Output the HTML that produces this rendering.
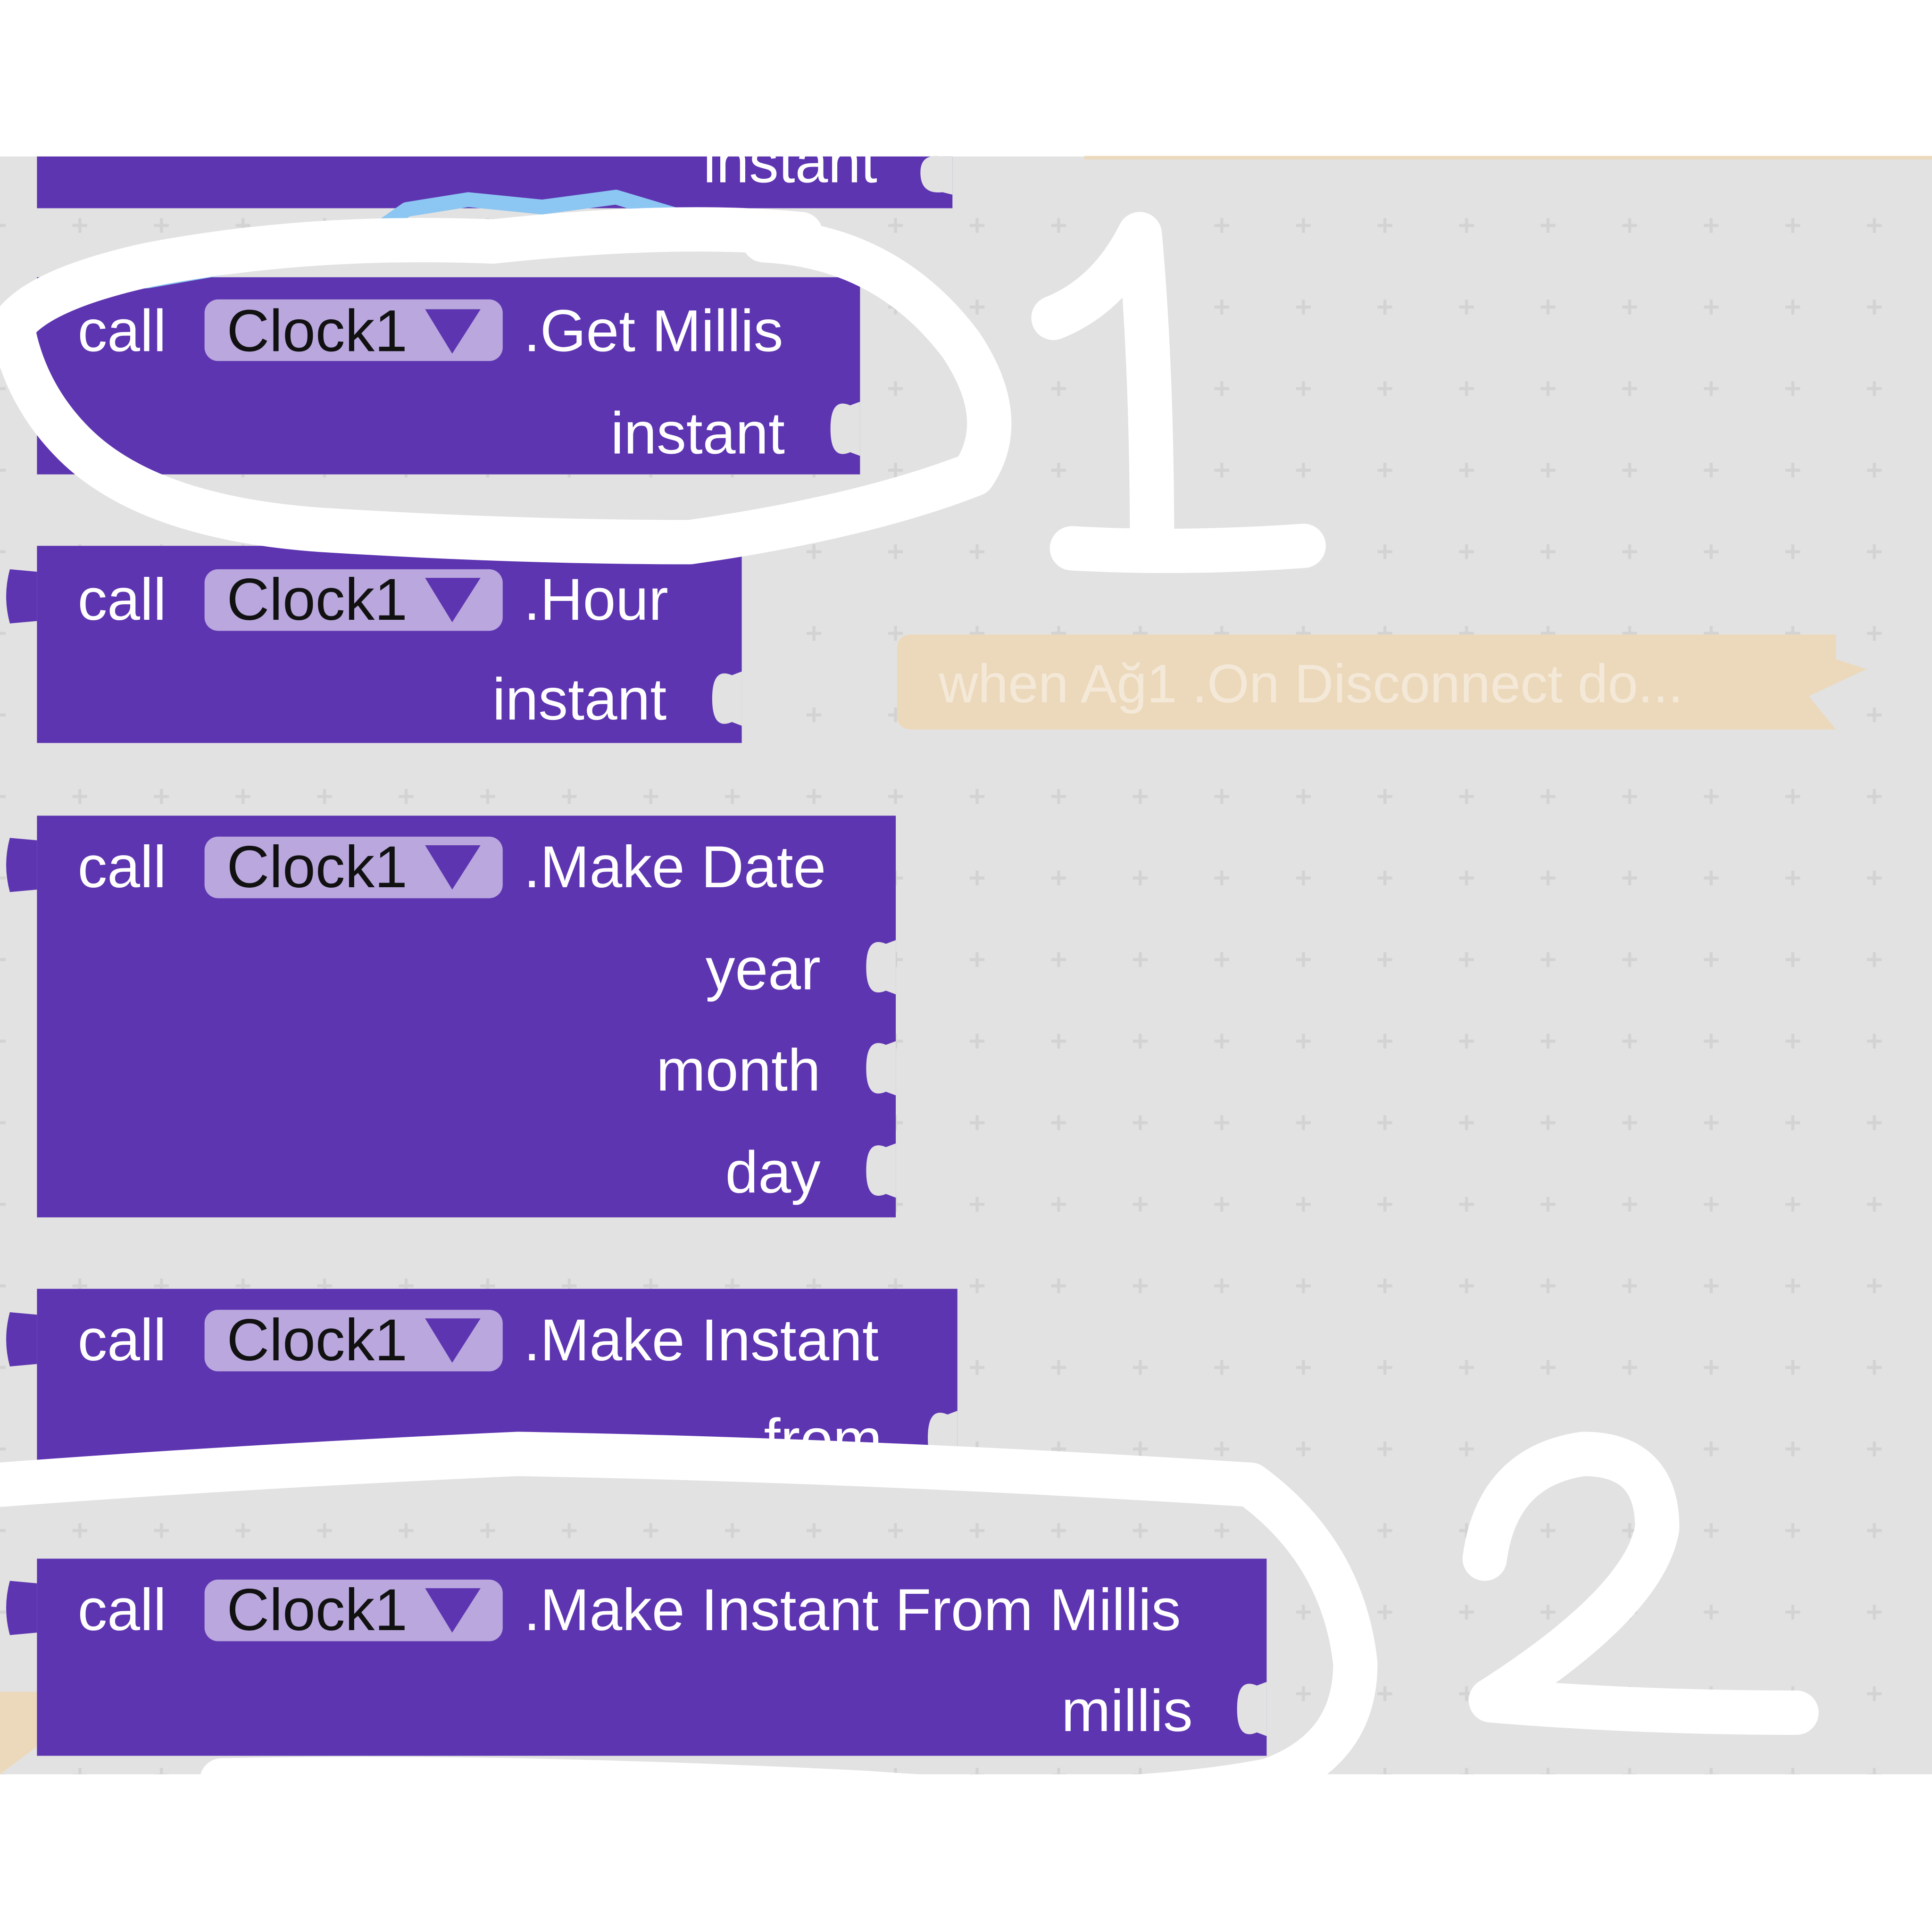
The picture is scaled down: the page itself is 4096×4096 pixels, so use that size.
<!DOCTYPE html>
<html><head><meta charset="utf-8"><style>html,body{margin:0;padding:0;background:#fff}svg{display:block}</style></head>
<body>
<svg width="4096" height="4096" viewBox="0 0 1568 1568" xmlns="http://www.w3.org/2000/svg" font-family="Liberation Sans, sans-serif">
<defs>
<pattern id="dots" x="0" y="0" width="66.2" height="66.2" patternUnits="userSpaceOnUse" patternTransform="translate(760,150)">
<path d="M27 33 H39 M33 27 V39" stroke="#d3d3d3" stroke-width="2.5"/>
</pattern>
</defs>
<rect x="0" y="0" width="1568" height="1568" fill="#fff"/>
<rect x="0" y="127" width="1568" height="1313" fill="#e2e2e2"/>
<rect x="0" y="127" width="1568" height="1313" fill="url(#dots)"/>
<line x1="880" y1="128" x2="1568" y2="128" stroke="#ead9bd" stroke-width="3"/>

<!-- faded orange event block -->
<path d="M740 515 H1490 V535 L1515 543 L1468 565 L1490 592 H740 Q728 592 728 580 V527 Q728 515 740 515 Z" fill="#ecd9bb"/>
<text x="762" y="570" font-size="44" fill="#f4e9d8">when  Ağ1 .On Disconnect do...</text>
<path d="M0 1373 H40 L60 1395 L0 1440 Z" fill="#ecd9bb"/>

<g font-size="48" fill="#fff">
<!-- block 0 -->
<rect x="30" y="127" width="743" height="42" fill="#5e35b1"/>
<text x="712" y="148" text-anchor="end">instant</text>
<path d="M773 127 L765 127 Q747 124 747 140 Q747 158 765 156 L773 158 Z" fill="#e2e2e2"/>

<!-- block 1 -->
<rect x="30" y="225" width="668" height="160" fill="#5e35b1"/>
<path d="M30 247 L10 245 Q4 265 10 285 L30 283 Z" fill="#5e35b1"/>
<text x="63" y="285">call</text>
<rect x="166" y="243" width="242" height="50" rx="11" fill="#b9a7dd"/>
<text x="184" y="285" fill="#111">Clock1</text>
<path d="M345 251 H390 L367 287 Z" fill="#5e35b1"/>
<text x="425" y="285">.Get Millis</text>
<text x="637" y="368" text-anchor="end">instant</text>
<path d="M698 326 L690 329 Q674 322 674 348 Q674 374 690 367 L698 370 Z" fill="#e2e2e2"/>

<!-- block 2 -->
<rect x="30" y="443" width="572" height="160" fill="#5e35b1"/>
<path d="M30 464 L8 462 Q2 484 8 506 L30 504 Z" fill="#5e35b1"/>
<text x="63" y="503">call</text>
<rect x="166" y="462" width="242" height="50" rx="11" fill="#b9a7dd"/>
<text x="184" y="503" fill="#111">Clock1</text>
<path d="M345 469 H390 L367 505 Z" fill="#5e35b1"/>
<text x="425" y="503">.Hour</text>
<text x="541" y="584" text-anchor="end">instant</text>
<path d="M602 545 L594 548 Q578 541 578 567 Q578 593 594 586 L602 589 Z" fill="#e2e2e2"/>

<!-- block 3 -->
<rect x="30" y="662" width="697" height="326" fill="#5e35b1"/>
<path d="M30 682 L8 680 Q2 702 8 724 L30 722 Z" fill="#5e35b1"/>
<text x="63" y="720">call</text>
<rect x="166" y="679" width="242" height="50" rx="11" fill="#b9a7dd"/>
<text x="184" y="720" fill="#111">Clock1</text>
<path d="M345 686 H390 L367 722 Z" fill="#5e35b1"/>
<text x="425" y="720">.Make Date</text>
<text x="666" y="803" text-anchor="end">year</text>
<text x="666" y="885" text-anchor="end">month</text>
<text x="666" y="968" text-anchor="end">day</text>
<path d="M727 763 L719 766 Q703 759 703 785 Q703 811 719 804 L727 807 Z" fill="#e2e2e2"/>
<path d="M727 845 L719 848 Q703 841 703 867 Q703 893 719 886 L727 889 Z" fill="#e2e2e2"/>
<path d="M727 928 L719 931 Q703 924 703 950 Q703 976 719 969 L727 972 Z" fill="#e2e2e2"/>

<!-- block 4 -->
<rect x="30" y="1046" width="747" height="150" fill="#5e35b1"/>
<path d="M30 1067 L8 1065 Q2 1087 8 1109 L30 1107 Z" fill="#5e35b1"/>
<text x="63" y="1104">call</text>
<rect x="166" y="1063" width="242" height="50" rx="11" fill="#b9a7dd"/>
<text x="184" y="1104" fill="#111">Clock1</text>
<path d="M345 1070 H390 L367 1106 Z" fill="#5e35b1"/>
<text x="425" y="1104">.Make Instant</text>
<text x="716" y="1185" text-anchor="end">from</text>
<path d="M777 1145 L769 1148 Q753 1141 753 1167 Q753 1193 769 1186 L777 1189 Z" fill="#e2e2e2"/>

<!-- block 5 -->
<rect x="30" y="1265" width="998" height="160" fill="#5e35b1"/>
<path d="M30 1285 L8 1283 Q2 1305 8 1327 L30 1325 Z" fill="#5e35b1"/>
<text x="63" y="1323">call</text>
<rect x="166" y="1282" width="242" height="50" rx="11" fill="#b9a7dd"/>
<text x="184" y="1323" fill="#111">Clock1</text>
<path d="M345 1289 H390 L367 1325 Z" fill="#5e35b1"/>
<text x="425" y="1323">.Make Instant From Millis</text>
<text x="968" y="1405" text-anchor="end">millis</text>
<path d="M1028 1365 L1020 1368 Q1004 1361 1004 1387 Q1004 1413 1020 1406 L1028 1409 Z" fill="#e2e2e2"/>
</g>

<!-- blue scribble -->
<path d="M30 250 Q60 230 120 228 L200 214 L280 205 L330 170 L380 162 L440 168 L500 160 L560 178 L620 182 L660 192" fill="none" stroke="#8cc6f2" stroke-width="12" stroke-linecap="round" stroke-linejoin="round"/>

<g fill="none" stroke="#fff" stroke-width="36" stroke-linecap="round" stroke-linejoin="round">
<!-- loop 1 -->
<path d="M650 190 Q550 180 400 196 Q250 190 120 215 Q30 235 10 265 Q20 320 60 360 Q120 420 260 430 Q420 440 560 440 Q700 420 790 385 Q820 340 780 280 Q720 200 620 195"/>
<!-- numeral 1 -->
<path d="M855 258 Q900 240 925 190 Q935 300 935 445"/>
<path d="M870 445 Q960 450 1058 443"/>
<!-- stroke 2 -->
<path d="M0 1205 Q200 1190 420 1180 Q700 1185 1015 1205 Q1090 1260 1100 1350 Q1100 1420 1030 1445 Q900 1470 700 1455 Q400 1440 180 1445"/>
<!-- numeral 2 -->
<path d="M1205 1265 Q1215 1190 1285 1180 Q1345 1180 1345 1240 Q1335 1300 1210 1380 Q1330 1390 1458 1390"/>
</g>
<rect x="0" y="1440" width="1568" height="128" fill="#fff"/>
</svg>
</body></html>
